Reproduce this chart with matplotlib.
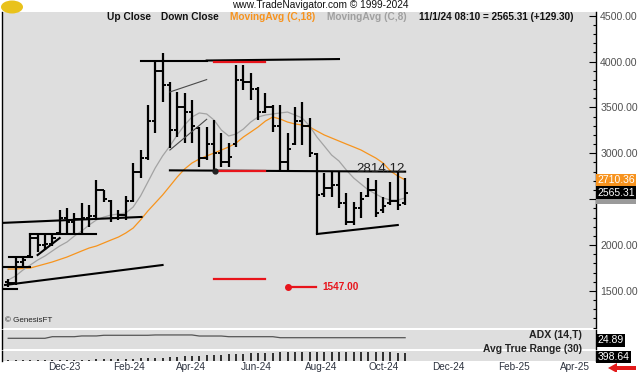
import matplotlib
matplotlib.use('Agg')
import matplotlib.pyplot as plt
import matplotlib.dates as mdates
from matplotlib.ticker import MultipleLocator, FuncFormatter
from matplotlib.transforms import blended_transform_factory, ScaledTranslation
from matplotlib.patches import FancyArrow, Ellipse, Rectangle
import pandas as pd

plt.rcParams['font.family'] = ['Liberation Sans', 'DejaVu Sans']

# ---------------- data (weekly bars) ----------------
dates = pd.date_range(end='2024-11-01', periods=55, freq='W-FRI')

opens = [1600, 1590, 1820, 1880, 2080, 2000, 2010, 2130, 2300, 2250, 2280, 2300, 2320, 2600, 2480, 2300, 2330,
         2480, 2800, 2950, 3350, 3900, 3750, 3250, 3500, 3450, 3280, 2950, 3100, 3000, 2900, 3100, 3800, 3780,
         3700, 3450, 3500, 3300, 2900, 3100, 3350, 3300, 2990, 2560, 2620, 2650, 2460, 2250, 2400, 2530, 2600,
         2380, 2460, 2480, 2460]
highs = [1629, 1858, 1869, 2131, 2131, 2131, 2131, 2380, 2400, 2345, 2455, 2435, 2710, 2600, 2490, 2380, 2530,
         2895, 3036, 3525, 3995, 4094, 3778, 3668, 3657, 3581, 3286, 3286, 3363, 3221, 3112, 3963, 3963, 3875,
         3723, 3657, 3526, 3526, 3221, 3505, 3560, 3385, 3003, 2785, 2796, 2796, 2567, 2469, 2578, 2731, 2709,
         2524, 2687, 2796, 2731]
lows = [1547, 1564, 1760, 1869, 1924, 1946, 1990, 2120, 2131, 2131, 2131, 2195, 2273, 2470, 2250, 2270, 2270,
        2470, 2730, 2927, 3220, 3560, 3057, 3178, 3112, 3112, 2850, 2927, 2797, 2850, 2850, 3069, 3690, 3580,
        3363, 3440, 3232, 2818, 2818, 3090, 3090, 2960, 2131, 2524, 2524, 2404, 2218, 2218, 2294, 2524, 2305,
        2349, 2436, 2382, 2436]
closes = [1590, 1820, 1840, 2080, 2000, 2010, 2080, 2300, 2250, 2280, 2300, 2320, 2600, 2500, 2300, 2330, 2480,
          2800, 2950, 3350, 3900, 3750, 3250, 3500, 3450, 3300, 2950, 3100, 3000, 2900, 2960, 3800, 3780, 3700,
          3450, 3500, 3300, 2900, 3050, 3350, 3300, 3000, 2550, 2620, 2650, 2460, 2250, 2400, 2500, 2600, 2350,
          2420, 2480, 2436.01, 2565.31]
ma18 = [1738, 1738, 1744, 1749, 1771, 1793, 1815, 1842, 1869, 1902, 1935, 1967, 1989, 2022, 2055, 2087, 2131,
        2185, 2273, 2371, 2458, 2545, 2643, 2742, 2829, 2894, 2938, 2971, 3003, 3036, 3069, 3112, 3178, 3232,
        3287, 3352, 3396, 3374, 3341, 3320, 3309, 3287, 3243, 3200, 3167, 3134, 3101, 3069, 3036, 2992, 2949,
        2894, 2807, 2753, 2710.36]
ma8 = [1618, 1662, 1727, 1782, 1836, 1880, 1935, 1989, 2033, 2098, 2153, 2218, 2273, 2305, 2327, 2338, 2349,
       2414, 2534, 2687, 2840, 2971, 3080, 3200, 3309, 3396, 3440, 3429, 3363, 3254, 3189, 3210, 3265, 3341,
       3396, 3418, 3429, 3440, 3450, 3418, 3385, 3298, 3178, 3080, 2981, 2916, 2818, 2731, 2665, 2600, 2556,
       2513, 2491, 2491, 2513]
adx = [24.0, 24.0, 24.0, 24.0, 24.0, 24.0, 26.4, 26.4, 26.4, 26.4, 27.5, 27.5, 27.5, 28.5, 28.5, 28.5, 28.5,
       28.5, 28.5, 28.5, 29.0, 29.0, 29.0, 29.0, 29.0, 29.0, 27.4, 27.4, 27.4, 27.4, 26.4, 26.4, 26.4, 26.4,
       26.4, 26.4, 26.4, 24.89, 24.89, 24.89, 24.89, 24.89, 24.89, 24.89, 24.89, 24.89, 24.89, 24.89, 24.89,
       24.89, 24.89, 24.89, 24.89, 24.89, 24.89]
atr = [222, 224, 225, 226, 226, 228, 229, 230, 231, 232, 233, 235, 237, 240, 248, 252, 255, 258, 262, 266, 270,
       280, 290, 300, 310, 318, 325, 335, 345, 355, 362, 370, 378, 385, 392, 398, 404, 410, 414, 418, 420, 422,
       424, 425, 426, 427, 427, 426, 424, 421, 415, 410, 405, 401, 398.64]

# hand-drawn trend lines (start date, price, end date, price)
black_lines = [
    ('2023-10-17', 1564, '2024-03-15', 1782),
    ('2023-10-12', 1522, '2023-10-28', 1522),
    ('2023-10-12', 1762, '2023-11-10', 1762),
    ('2023-10-21', 1870, '2023-11-12', 1870),
    ('2023-11-10', 2120, '2024-01-12', 2120),
    ('2023-11-17', 1891, '2023-12-08', 2076),
    ('2023-10-12', 2240, '2024-02-24', 2306),
    ('2024-02-23', 4006, '2024-04-26', 4006),
    ('2024-04-26', 4012, '2024-08-30', 4028),
    ('2024-03-22', 2814.12, '2024-11-01', 2800),
    ('2024-08-09', 2120, '2024-10-25', 2218),
]
thin_lines = [
    ('2024-03-22', 3669, '2024-04-26', 3804),
    ('2024-03-22', 3036, '2024-04-26', 3371),
]
red_lines = [
    ('2024-05-03', 3995, '2024-06-21', 3995),
    ('2024-05-04', 2812, '2024-06-21', 2812),
    ('2024-05-03', 1630, '2024-06-21', 1630),
    ('2024-07-12', 1547, '2024-08-08', 1547),
]
target_value = 1547.00
level_value = 2814.12
month_ticks = pd.date_range('2023-12-01', '2025-04-01', freq='2MS')
hidden_tick = 2500  # covered by the value boxes in the original

# ---------------- figure ----------------
W, H = 640, 372
fig = plt.figure(figsize=(W / 100, H / 100), dpi=100)
fig.patch.set_facecolor('white')
BG = '#DEDEDE'


def rect(x0, y0, x1, y1):
    return [x0 / W, 1 - y1 / H, (x1 - x0) / W, (y1 - y0) / H]


ax = fig.add_axes(rect(2, 12, 596, 328))
ax_adx = fig.add_axes(rect(2, 330, 596, 349), sharex=ax)
ax_atr = fig.add_axes(rect(2, 351, 596, 361), sharex=ax)

for a in (ax, ax_adx, ax_atr):
    a.set_facecolor(BG)
    for s in ('top', 'bottom'):
        a.spines[s].set_visible(False)
    for s in ('left', 'right'):
        a.spines[s].set_color('black')
        a.spines[s].set_linewidth(1.0)
    a.tick_params(axis='x', bottom=False, labelbottom=False)

xd = mdates.date2num(dates)
day = 1.0
ax.set_xlim(mdates.date2num(pd.Timestamp('2023-10-14 02:00')),
            mdates.date2num(pd.Timestamp('2025-05-01 19:00')))
ax.set_ylim(1095, 4541)

# OHLC bars
ax.vlines(xd, lows, highs, color='black', lw=1.6, zorder=4)
ax.hlines(opens, xd - 3.2 * day, xd, color='black', lw=1.4, zorder=4)
ax.hlines(closes, xd, xd + 3.2 * day, color='black', lw=1.4, zorder=4)

# moving averages
ax.plot(xd, ma18, color='#F7941D', lw=0.9, zorder=3)
ax.plot(xd, ma8, color='#A3A3A3', lw=0.9, zorder=3)


def seg(lines, **kw):
    for d0, p0, d1, p1 in lines:
        ax.plot([mdates.date2num(pd.Timestamp(d0)), mdates.date2num(pd.Timestamp(d1))], [p0, p1], **kw)


seg(black_lines, color='black', lw=1.5, zorder=5)
seg(thin_lines, color='#4A4A4A', lw=0.8, zorder=5)
seg(red_lines, color='#E8141B', lw=1.6, zorder=6)
ax.plot([mdates.date2num(pd.Timestamp('2024-05-04'))], [level_value - 2], 'o', color='#222222', ms=3.5, zorder=7)
ax.plot([mdates.date2num(pd.Timestamp('2024-07-12'))], [target_value], 'o', color='#E8141B', ms=4, zorder=7)
ax.text(mdates.date2num(pd.Timestamp('2024-08-14')), target_value, f'{target_value:.2f}', color='#E8141B',
        fontsize=7.2, fontweight='bold', ha='left', va='center', zorder=7)
ax.text(mdates.date2num(pd.Timestamp('2024-09-16')), 2829, f'{level_value:.2f}', color='#222222',
        fontsize=9.6, ha='left', va='center', zorder=7)

# right axis
ax.yaxis.tick_right()
ax.yaxis.set_major_locator(MultipleLocator(500))
ax.yaxis.set_minor_locator(MultipleLocator(100))
ax.yaxis.set_major_formatter(FuncFormatter(lambda v, p: '' if abs(v - hidden_tick) < 1 else f'{v:.2f}'))
ax.tick_params(axis='y', which='major', direction='in', length=5, width=0.8, pad=3,
               labelsize=7.6, labelcolor='#505050', left=False, right=True)
ax.tick_params(axis='y', which='minor', direction='in', length=2.5, width=0.8, left=False, right=True)

# value boxes on right axis
trans_main = blended_transform_factory(ax.transAxes, ax.transData) + ScaledTranslation(1.5 / 100, 0, fig.dpi_scale_trans)
box_kw = dict(fontsize=7.5, ha='left', va='center', transform=trans_main, clip_on=False)
ax.add_patch(Rectangle((1.0, ma8[-1] - 70), 40 / 594, 120, transform=blended_transform_factory(ax.transAxes, ax.transData),
                       fc='#9A9A9A', ec='none', clip_on=False, zorder=19))
ax.text(1, ma18[-1], f'{ma18[-1]:.2f}', color='white', zorder=21,
        bbox=dict(boxstyle='square,pad=0.12', fc='#F7931E', ec='none'), **box_kw)
ax.text(1, closes[-1] + 6, f'{closes[-1]:.2f}', color='white', zorder=22,
        bbox=dict(boxstyle='square,pad=0.12', fc='black', ec='none'), **box_kw)

# ADX panel
ax_adx.plot(xd, adx, color='#555555', lw=0.9)
ax_adx.set_ylim(8, 36.4)
ax_adx.set_yticks([])
ax_adx.text(0.977, 0.72, 'ADX (14,T)', transform=ax_adx.transAxes, ha='right', va='center',
            fontsize=7.6, fontweight='bold', color='#222222')
ax_adx.text(1, 0.45, f'{adx[-1]:.2f}', transform=ax_adx.transAxes + ScaledTranslation(1.5 / 100, 0, fig.dpi_scale_trans),
            ha='left', va='center', fontsize=7.5, color='white', clip_on=False,
            bbox=dict(boxstyle='square,pad=0.12', fc='black', ec='none'))

# ATR panel
ax_atr.vlines(xd, 200, atr, color='black', lw=1.1)
ax_atr.set_ylim(200, 440)
ax_atr.set_yticks([])
ax_atr.text(0.977, 1.25, 'Avg True Range (30)', transform=ax_atr.transAxes, ha='right', va='center',
            fontsize=7.4, fontweight='bold', color='#222222')
ax_atr.text(1, 0.4, f'{atr[-1]:.2f}', transform=ax_atr.transAxes + ScaledTranslation(1.5 / 100, 0, fig.dpi_scale_trans),
            ha='left', va='center', fontsize=7.5, color='white', clip_on=False,
            bbox=dict(boxstyle='square,pad=0.12', fc='black', ec='none'))

# month labels
trans_x = blended_transform_factory(ax_atr.transData, ax_atr.transAxes) + ScaledTranslation(-4 / 100, 0, fig.dpi_scale_trans)
for m in month_ticks:
    ax_atr.text(mdates.date2num(m), -0.15, m.strftime('%b-%y'), transform=trans_x, ha='left', va='top',
                fontsize=7.2, color='#2E3440', clip_on=False)

# header texts
def ftext(x, y, s, **kw):
    fig.text(x / W, 1 - y / H, s, va='center', ha='left', **kw)


ftext(232, 5, 'www.TradeNavigator.com \u00a9 1999-2024', fontsize=7.3, color='#111111')
ftext(107, 17.5, 'Up Close', fontsize=7.3, fontweight='bold', color='#111111')
ftext(161, 17.5, 'Down Close', fontsize=7.3, fontweight='bold', color='#111111')
ftext(230, 17.5, 'MovingAvg (C,18)', fontsize=7.3, fontweight='bold', color='#F7931E')
ftext(327, 17.5, 'MovingAvg (C,8)', fontsize=7.3, fontweight='bold', color='#A0A0A0')
ftext(419, 17.5, f'11/1/24 08:10 = {closes[-1]:.2f} (+{closes[-1] - closes[-2]:.2f})', fontsize=7.2,
      fontweight='bold', color='#111111')
ftext(5, 320, '\u00a9 GenesisFT', fontsize=5.8, color='#222222')

# logo and arrow decorations
fig.patches.append(Ellipse((12 / W, 1 - 7 / H), 22 / W, 13 / H, transform=fig.transFigure,
                           fc='#E9C21B', ec='none'))
fig.patches.append(FancyArrow(636 / W, 1 - 368 / H, -28 / W, 0, width=4 / H, head_width=10 / H,
                              head_length=9 / W, length_includes_head=True, transform=fig.transFigure,
                              fc='#E31B1B', ec='none'))

fig.savefig('out.png', dpi=100)
